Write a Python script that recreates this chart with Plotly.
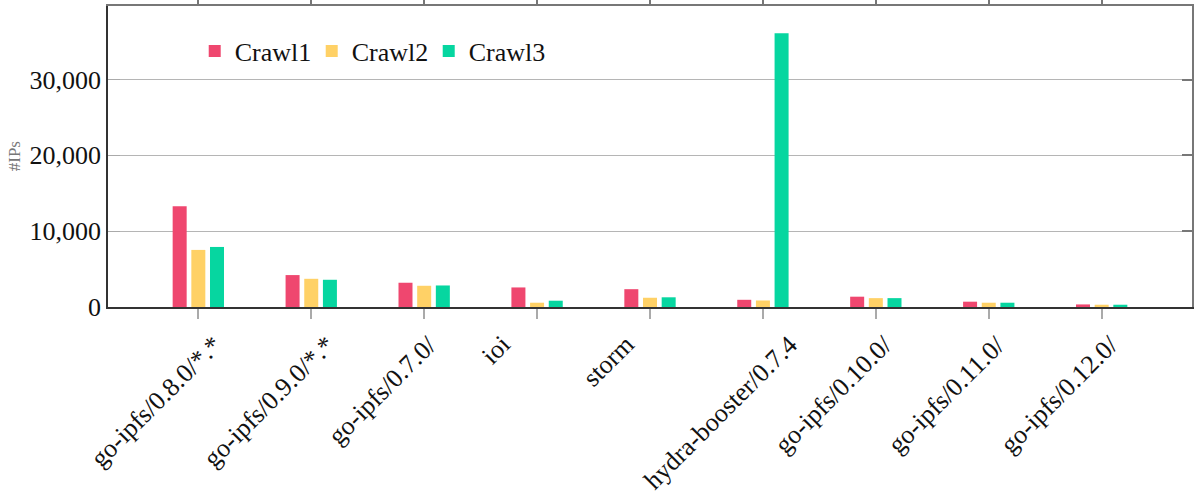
import plotly.graph_objects as go

categories = ["go-ipfs/0.8.0/*.*", "go-ipfs/0.9.0/*.*", "go-ipfs/0.7.0/", "ioi", "storm",
              "hydra-booster/0.7.4", "go-ipfs/0.10.0/", "go-ipfs/0.11.0/", "go-ipfs/0.12.0/"]
crawl1 = [13280, 4210, 3200, 2580, 2350, 950, 1360, 700, 340]
crawl2 = [7530, 3720, 2800, 565, 1220, 860, 1170, 565, 300]
crawl3 = [7920, 3590, 2840, 830, 1280, 36120, 1170, 565, 300]
series_names = ["Crawl1", "Crawl2", "Crawl3"]
colors = ["#EF476F", "#FFD166", "#06D6A0"]
y_ticks = [0, 10000, 20000, 30000]

FONT = "Liberation Serif"
x_idx = list(range(len(categories)))

fig = go.Figure()
for name, vals, col in zip(series_names, [crawl1, crawl2, crawl3], colors):
    fig.add_trace(go.Bar(x=x_idx, y=vals, name=name, marker=dict(color=col, line=dict(width=0))))

# invisible trace for mirrored top/right axes
fig.add_trace(go.Scatter(x=[x_idx[0]], y=[0], xaxis="x2", yaxis="y2", mode="markers",
                         marker=dict(opacity=0), showlegend=False, hoverinfo="skip"))

# rotated category labels (placed like pgfplots: bounding box top-centred below each tick)
label_annotations = [
    dict(text=c, x=i, xref="x", y=-0.068, yref="paper", xanchor="center", yanchor="top",
         xshift=-42, textangle=-45, showarrow=False,
         font=dict(family=FONT, size=26, color="#111"))
    for i, c in zip(x_idx, categories)
]

fig.update_layout(
    width=1194, height=494,
    margin=dict(l=108, r=2, t=6, b=187, autoexpand=False),
    paper_bgcolor="white", plot_bgcolor="white",
    font=dict(family=FONT, color="#111", size=26),
    barmode="group", bargap=0.504, bargroupgap=0.25,
    showlegend=True,
    legend=dict(orientation="h", x=0.08, xanchor="left", y=0.85, yanchor="middle",
                bgcolor="white", font=dict(family=FONT, size=26, color="#111"),
                itemwidth=30, traceorder="normal", entrywidth=72, entrywidthmode="pixels"),
    xaxis=dict(range=[-0.8, 8.8], tickmode="array", tickvals=x_idx, showticklabels=False,
               ticks="outside", ticklen=10, tickcolor="#aaaaaa", tickwidth=1.5,
               showline=True, linecolor="#333", linewidth=1.5, showgrid=False, zeroline=False),
    yaxis=dict(range=[0, 39700], tickmode="array", tickvals=y_ticks, tickformat=",d",
               ticks="inside", ticklen=12, tickcolor="#aaaaaa", tickwidth=1,
               showline=True, linecolor="#333", linewidth=1.5,
               showgrid=True, gridcolor="#b5b5b5", gridwidth=1, zeroline=False,
               tickfont=dict(family=FONT, size=26, color="#111")),
    xaxis2=dict(overlaying="x", side="top", matches="x", tickmode="array", tickvals=x_idx,
                showticklabels=False, ticks="outside", ticklen=6, tickcolor="#777", tickwidth=1.5,
                showline=True, linecolor="#777", linewidth=1.5, showgrid=False, zeroline=False),
    yaxis2=dict(overlaying="y", side="right", matches="y", tickmode="array", tickvals=y_ticks,
                showticklabels=False, ticks="inside", ticklen=10, tickcolor="#777", tickwidth=1.5,
                showline=True, linecolor="#777", linewidth=1.5, showgrid=False, zeroline=False),
    annotations=label_annotations + [
        dict(text="#IPs", xref="paper", yref="paper", x=-0.086, y=0.5, xanchor="center",
             yanchor="middle", textangle=-90, showarrow=False,
             font=dict(family=FONT, size=17, color="#777"))],
)

fig.write_html("out.html", config={"displayModeBar": False},
               post_script="document.body.style.margin='0';")
